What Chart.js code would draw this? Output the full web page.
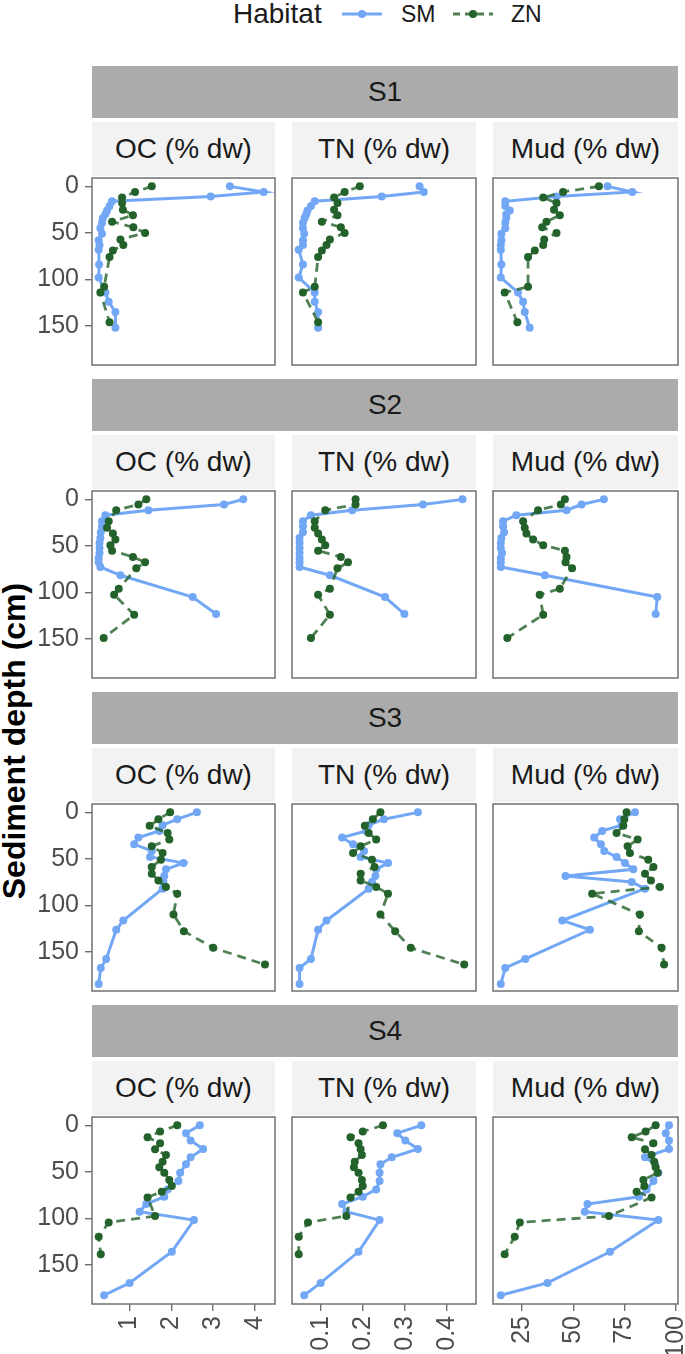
<!DOCTYPE html>
<html>
<head>
<meta charset="utf-8">
<script src="https://cdn.jsdelivr.net/npm/chart.js@4.4.1/dist/chart.umd.min.js"></script>
<style>
  body { margin: 0; background: #fff; font-family: "Liberation Sans", Arial, sans-serif; }
  #page { position: relative; width: 685px; height: 1354px; overflow: hidden; background: #fff; }
  .strip { position: absolute; background: #ababab; color: #1a1a1a; font-size: 28px; text-align: center; }
  .sub { position: absolute; background: #f2f2f2; color: #1a1a1a; font-size: 28px; text-align: center; }
  canvas { position: absolute; }
  #ytitle { position: absolute; left: 14px; top: 741px; transform: translate(-50%, -50%) rotate(-90deg);
            font-weight: bold; font-size: 32px; color: #000; white-space: nowrap; }
  .leg { position: absolute; top: 14px; transform: translateY(-50%); color: #1a1a1a; white-space: nowrap; }
</style>
</head>
<body>
<div id="page">
  <div class="leg" style="left:233px;font-size:28px;">Habitat</div>
  <svg class="leg" style="left:342px" width="40" height="10">
    <line x1="0" y1="5" x2="40" y2="5" stroke="#72a7f5" stroke-width="3"/>
    <circle cx="20" cy="5" r="4" fill="#72a7f5"/>
  </svg>
  <div class="leg" style="left:401px;font-size:23px;">SM</div>
  <svg class="leg" style="left:453px" width="40" height="10">
    <line x1="0" y1="5" x2="40" y2="5" stroke="rgba(35,98,42,0.8)" stroke-width="3" stroke-dasharray="7,5"/>
    <circle cx="20" cy="5" r="4" fill="#23622a"/>
  </svg>
  <div class="leg" style="left:511px;font-size:23px;">ZN</div>
  <div id="ytitle">Sediment depth (cm)</div>
</div>
<script>
// facets
const SITES = ['S1', 'S2', 'S3', 'S4'];
const VARIABLES = ['OC (% dw)', 'TN (% dw)', 'Mud (% dw)'];

// axis ticks and limits
const Y_TICKS = [0, 50, 100, 150];
const X_TICKS = [[1, 2, 3, 4], [0.1, 0.2, 0.3, 0.4], [25, 50, 75, 100]];
const X_MIN = [0.10, 0.032, 10.8];
const X_MAX = [4.48, 0.469, 101.1];

// SM habitat: depth (cm) per site, then values per site
const SM_DEPTH = [
  [0, 6, 11, 16, 21, 26, 30, 34, 39, 45, 51, 58, 63, 68, 84, 98, 114, 124, 135, 152],
  [0, 5.5, 11.6, 17, 23.5, 28.8, 35.3, 41.4, 46.8, 52.2, 57.6, 63, 67.6, 72.7, 81.6, 105, 123.3],
  [0, 7.3, 13.8, 19.9, 27.1, 34.3, 41.4, 47.9, 54.4, 61.2, 68.4, 74.9, 82, 116.2, 126.2, 157.5, 167.2, 184.4],
  [0, 8.4, 16.3, 25.3, 34.3, 41.8, 50.8, 59.8, 68.8, 76.7, 84.6, 92.8, 101.8, 135.9, 169.3, 182.6]
];
const SM_OC = [
  [3.40, 4.21, 2.94, 0.58, 0.52, 0.46, 0.42, 0.36, 0.34, 0.30, 0.34, 0.26, 0.28, 0.26, 0.27, 0.26, 0.42, 0.50, 0.66, 0.66],
  [3.72, 3.26, 1.45, 0.42, 0.34, 0.34, 0.31, 0.30, 0.28, 0.28, 0.28, 0.26, 0.26, 0.30, 0.78, 2.51, 3.07],
  [2.61, 2.14, 1.79, 1.71, 1.21, 1.11, 1.53, 1.49, 2.29, 1.87, 1.83, 1.81, 1.79, 0.85, 0.68, 0.44, 0.31, 0.26],
  [2.68, 2.35, 2.46, 2.76, 2.46, 2.35, 2.21, 2.17, 1.91, 1.83, 1.40, 1.24, 2.54, 2.01, 1.00, 0.39]
];
const SM_TN = [
  [0.335, 0.345, 0.245, 0.086, 0.077, 0.069, 0.066, 0.062, 0.058, 0.058, 0.061, 0.058, 0.058, 0.048, 0.058, 0.048, 0.086, 0.086, 0.094, 0.094],
  [0.437, 0.343, 0.175, 0.077, 0.058, 0.058, 0.058, 0.050, 0.050, 0.050, 0.050, 0.050, 0.050, 0.050, 0.122, 0.253, 0.299],
  [0.331, 0.250, 0.214, 0.208, 0.151, 0.177, 0.203, 0.195, 0.260, 0.232, 0.230, 0.222, 0.214, 0.114, 0.094, 0.077, 0.050, 0.050],
  [0.339, 0.282, 0.301, 0.331, 0.269, 0.242, 0.240, 0.240, 0.232, 0.200, 0.151, 0.161, 0.240, 0.190, 0.100, 0.061]
];
const SM_MUD = [
  [66.7, 78.8, 41.8, 16.8, 16.8, 19.0, 17.3, 17.3, 16.8, 16.8, 14.9, 14.9, 14.6, 14.6, 14.9, 14.6, 23.0, 25.5, 26.3, 28.7],
  [64.9, 54.0, 46.7, 22.2, 15.7, 15.7, 16.2, 14.9, 14.6, 14.6, 15.2, 14.6, 14.6, 14.6, 36.1, 91.0, 90.2],
  [80.1, 72.8, 73.6, 64.1, 60.2, 63.5, 65.1, 71.1, 75.2, 79.3, 46.2, 78.5, 85.0, 44.6, 58.1, 26.6, 16.8, 14.6],
  [96.7, 95.1, 96.7, 96.7, 85.0, 89.9, 91.5, 89.1, 85.8, 82.0, 56.9, 55.6, 91.5, 67.9, 37.4, 14.6]
];

// ZN habitat
const ZN_DEPTH = [
  [0, 6, 12, 18, 25, 31, 38, 44, 50, 57, 63, 69, 76, 108, 114, 146],
  [0, 5.5, 11.6, 23.5, 30.6, 36.7, 43.2, 49.3, 55.1, 61.9, 67.6, 74.1, 96, 102.5, 124, 149],
  [0, 7.3, 14.5, 22.1, 29.2, 36.4, 43.6, 50.8, 58.7, 65.9, 73.1, 80.2, 87.4, 109.7, 127.7, 145.6, 163.6],
  [0, 6.6, 12.7, 19.2, 25.7, 31.8, 39, 45.1, 50.8, 58.7, 65.2, 71.3, 77.4, 97.5, 104.3, 119.8, 138.5]
];
const ZN_OC = [
  [1.53, 1.13, 0.82, 0.82, 0.84, 1.08, 0.58, 1.09, 1.37, 0.78, 0.85, 0.60, 0.52, 0.39, 0.30, 0.52],
  [1.40, 1.21, 0.68, 0.50, 0.46, 0.60, 0.66, 0.54, 0.58, 1.08, 1.37, 1.16, 0.74, 0.63, 1.11, 0.38],
  [1.97, 1.69, 1.48, 1.91, 1.95, 1.53, 1.79, 1.75, 1.53, 1.53, 1.69, 1.87, 2.14, 2.05, 2.30, 3.00, 4.24],
  [2.14, 1.73, 1.43, 1.73, 1.61, 1.87, 1.79, 1.71, 1.83, 1.95, 2.01, 1.77, 1.43, 1.61, 0.50, 0.26, 0.31]
];
const ZN_TN = [
  [0.193, 0.157, 0.132, 0.140, 0.132, 0.140, 0.103, 0.148, 0.157, 0.122, 0.114, 0.103, 0.094, 0.086, 0.058, 0.094],
  [0.183, 0.183, 0.111, 0.086, 0.086, 0.094, 0.103, 0.111, 0.094, 0.148, 0.165, 0.140, 0.122, 0.094, 0.122, 0.077],
  [0.242, 0.224, 0.205, 0.214, 0.232, 0.195, 0.177, 0.222, 0.228, 0.195, 0.195, 0.232, 0.260, 0.242, 0.277, 0.314, 0.441],
  [0.248, 0.200, 0.171, 0.190, 0.195, 0.198, 0.181, 0.179, 0.190, 0.198, 0.200, 0.190, 0.171, 0.161, 0.070, 0.048, 0.048]
];
const ZN_MUD = [
  [62.5, 45.0, 35.3, 41.8, 40.6, 43.4, 36.9, 34.8, 41.8, 35.8, 35.3, 31.2, 27.9, 27.9, 16.5, 22.7],
  [45.9, 43.9, 32.8, 25.5, 26.3, 27.1, 30.4, 35.3, 45.9, 46.7, 46.2, 49.4, 43.4, 33.6, 35.3, 17.8],
  [76.0, 74.9, 74.4, 71.1, 81.4, 76.5, 77.6, 86.6, 89.1, 85.0, 87.9, 92.3, 59.2, 82.5, 82.0, 93.1, 94.3],
  [90.2, 85.3, 78.5, 89.1, 85.0, 88.2, 89.5, 90.2, 91.2, 84.2, 84.7, 80.9, 88.2, 67.4, 23.9, 21.4, 16.5]
];

const SM_VALUES = [SM_OC, SM_TN, SM_MUD];
const ZN_VALUES = [ZN_OC, ZN_TN, ZN_MUD];

// colours / fonts
const SM_COLOR = '#72a7f5';
const ZN_POINT = '#23622a';
const ZN_LINE = 'rgba(35,98,42,0.8)';
const FRAME = '#707070';
const TICK_FONT = { family: '"Liberation Sans", Arial, sans-serif', size: 25 };
const TICK_COLOR = '#4d4d4d';

// layout (px)
const PANEL_LEFT = [92, 292, 493];
const PANEL_W = [183, 184, 185];
const PANEL_TOP0 = 178;
const ROW_STEP = 313;
const PANEL_H = 187;
const Y_AXIS_W = 92;
const X_AXIS_H = 50;
const PAD = 12;

// panel frame drawn round the chart area
const panelFrame = {
  id: 'panelFrame',
  afterDraw(chart) {
    const { ctx, chartArea: a } = chart;
    ctx.save();
    ctx.strokeStyle = FRAME;
    ctx.lineWidth = 1.5;
    ctx.strokeRect(a.left, a.top, a.right - a.left, a.bottom - a.top);
    ctx.restore();
  }
};

function zip(depths, values) {
  return depths.map((d, i) => ({ x: values[i], y: d }));
}

const page = document.getElementById('page');

function addDiv(cls, text, left, top, width, height) {
  const el = document.createElement('div');
  el.className = cls;
  el.textContent = text;
  Object.assign(el.style, {
    left: left + 'px', top: top + 'px', width: width + 'px',
    height: height + 'px', lineHeight: height + 'px'
  });
  page.appendChild(el);
}

SITES.forEach((site, r) => {
  const top = PANEL_TOP0 + ROW_STEP * r;
  addDiv('strip', site, PANEL_LEFT[0], top - 112, PANEL_LEFT[2] + PANEL_W[2] - PANEL_LEFT[0], 52);

  VARIABLES.forEach((variable, c) => {
    addDiv('sub', variable, PANEL_LEFT[c], top - 56, PANEL_W[c], 54);

    const first = c === 0;
    const last = r === SITES.length - 1;
    const left = first ? 0 : PANEL_LEFT[c] - PAD;
    const w = (first ? Y_AXIS_W : PAD) + PANEL_W[c] + PAD;
    const h = PAD + PANEL_H + (last ? X_AXIS_H : PAD);

    const canvas = document.createElement('canvas');
    canvas.width = w;
    canvas.height = h;
    Object.assign(canvas.style, { left: left + 'px', top: (top - PAD) + 'px', width: w + 'px', height: h + 'px' });
    page.appendChild(canvas);

    new Chart(canvas, {
      type: 'scatter',
      data: {
        datasets: [
          {
            label: 'ZN',
            data: zip(ZN_DEPTH[r], ZN_VALUES[c][r]),
            showLine: true,
            borderColor: ZN_LINE,
            borderWidth: 2.8,
            borderDash: [9, 6],
            pointRadius: 4,
            pointBorderWidth: 0,
            pointBackgroundColor: ZN_POINT,
            order: 0
          },
          {
            label: 'SM',
            data: zip(SM_DEPTH[r], SM_VALUES[c][r]),
            showLine: true,
            borderColor: SM_COLOR,
            borderWidth: 3,
            pointRadius: 4,
            pointBorderWidth: 0,
            pointBackgroundColor: SM_COLOR,
            order: 1
          }
        ]
      },
      options: {
        responsive: false,
        animation: false,
        events: [],
        layout: { padding: { top: PAD, right: PAD, left: first ? 0 : PAD, bottom: last ? 0 : PAD } },
        plugins: { legend: { display: false }, tooltip: { enabled: false } },
        scales: {
          x: {
            type: 'linear',
            min: X_MIN[c],
            max: X_MAX[c],
            display: last,
            afterBuildTicks: s => { s.ticks = X_TICKS[c].map(v => ({ value: v })); },
            afterFit: s => {
              if (!last) return;
              s.height = X_AXIS_H; s.paddingLeft = 0; s.paddingRight = 0;
            },
            border: { display: false },
            grid: { drawOnChartArea: false, drawTicks: true, tickLength: 7, color: FRAME, lineWidth: 1.4 },
            ticks: {
              autoSkip: false, minRotation: 90, maxRotation: 90, padding: 5,
              font: TICK_FONT, color: TICK_COLOR, callback: v => String(v)
            }
          },
          y: {
            type: 'linear',
            reverse: true,
            min: -9,
            max: 192,
            display: first,
            afterBuildTicks: s => { s.ticks = Y_TICKS.map(v => ({ value: v })); },
            afterFit: s => {
              if (!first) return;
              s.width = Y_AXIS_W; s.paddingTop = 0; s.paddingBottom = 0;
            },
            border: { display: false },
            grid: { drawOnChartArea: false, drawTicks: true, tickLength: 7, color: FRAME, lineWidth: 1.4 },
            ticks: { padding: 6, font: TICK_FONT, color: TICK_COLOR, callback: v => String(v) }
          }
        }
      },
      plugins: [panelFrame]
    });
  });
});
</script>
</body>
</html>
